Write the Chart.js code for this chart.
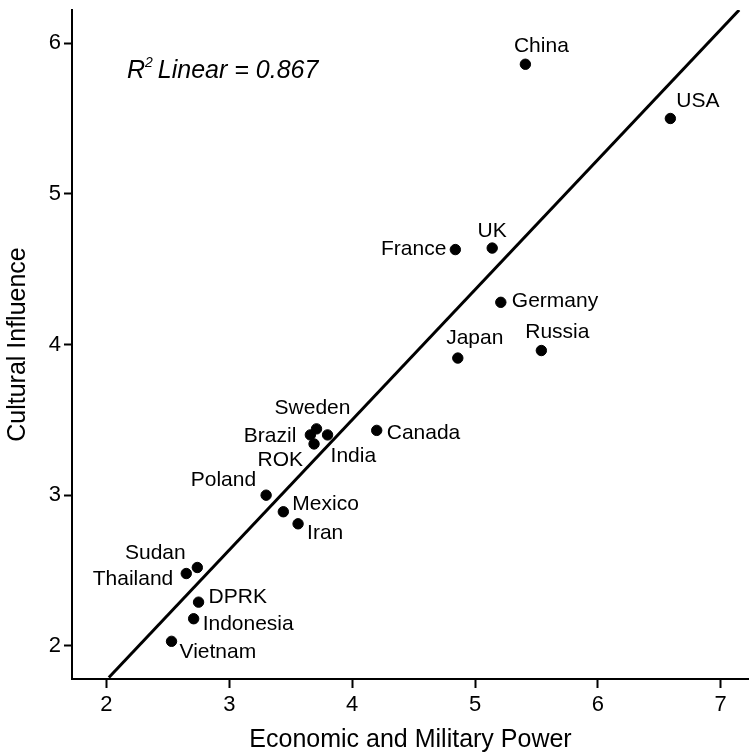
<!DOCTYPE html>
<html lang="en">
<head>
    <meta charset="UTF-8">
    <title>Cultural Influence vs Economic and Military Power</title>
    <script src="https://cdn.jsdelivr.net/npm/chart.js"></script>
    <style>
        html, body { margin: 0; padding: 0; background: #fff; overflow: hidden; }
        #wrap { width: 749px; height: 756px; position: relative; }
    </style>
</head>
<body>
    <div id="wrap"><canvas id="scatterChart"></canvas></div>

    <script>
        // Values
        const countries = ['China', 'USA', 'UK', 'France', 'Germany', 'Russia', 'Japan', 'Canada',
            'Sweden', 'Brazil', 'ROK', 'India', 'Poland', 'Mexico', 'Iran', 'Sudan', 'Thailand',
            'DPRK', 'Indonesia', 'Vietnam'];
        const economicMilitaryPower = [5.41, 6.59, 5.14, 4.84, 5.21, 5.54, 4.86, 4.20,
            3.71, 3.66, 3.69, 3.80, 3.30, 3.44, 3.56, 2.74, 2.65,
            2.75, 2.71, 2.53];
        const culturalInfluence = [5.86, 5.50, 4.64, 4.63, 4.28, 3.96, 3.91, 3.43,
            3.44, 3.40, 3.34, 3.40, 3.00, 2.89, 2.81, 2.52, 2.48,
            2.29, 2.18, 2.03];

        // fitted line end points
        const fitX = [2.02, 7.15];
        const fitY = [1.79, 6.22];

        const xTicks = [2, 3, 4, 5, 6, 7];
        const yTicks = [2, 3, 4, 5, 6];
        const rSquared = '0.867';

        // label placement next to each dot: [dx, dy, align]
        const labelPlacement = {
            China: [16, -18, 'center'], USA: [6, -17, 'left'], UK: [0, -17, 'center'],
            France: [-9, 0, 'right'], Germany: [11, -1, 'left'], Russia: [16, -18, 'center'],
            Japan: [17, -20, 'center'], Canada: [10, 3, 'left'], Sweden: [-4, -21, 'center'],
            Brazil: [-14, 1, 'right'], ROK: [-11, 16, 'right'], India: [3, 21, 'left'],
            Poland: [-10, -15, 'right'], Mexico: [9, -8, 'left'], Iran: [9, 9, 'left'],
            Sudan: [-42, -14, 'center'], Thailand: [-13, 6, 'right'], DPRK: [10, -5, 'left'],
            Indonesia: [9, 5, 'left'], Vietnam: [8, 11, 'left']
        };

        const FONT = "'Liberation Sans', Arial, sans-serif";

        const pointLabels = {
            id: 'pointLabels',
            afterDatasetsDraw(chart) {
                const ctx = chart.ctx;
                const meta = chart.getDatasetMeta(0);
                ctx.save();
                ctx.fillStyle = '#000';
                ctx.font = '21px ' + FONT;
                ctx.textBaseline = 'middle';
                meta.data.forEach((pt, i) => {
                    const p = labelPlacement[countries[i]];
                    ctx.textAlign = p[2];
                    ctx.fillText(countries[i], pt.x + p[0], pt.y + p[1]);
                });

                // R squared note
                const a = chart.chartArea;
                let x = a.left + 55, y = a.top + 68;
                ctx.textAlign = 'left';
                ctx.textBaseline = 'alphabetic';
                ctx.font = 'italic 25px ' + FONT;
                ctx.fillText('R', x, y);
                x += ctx.measureText('R').width;
                ctx.font = 'italic 14px ' + FONT;
                ctx.fillText('2', x, y - 11);
                x += ctx.measureText('2').width + 5;
                ctx.font = 'italic 25px ' + FONT;
                ctx.fillText('Linear = ' + rSquared, x, y);
                ctx.restore();
            }
        };

        const ctx = document.getElementById('scatterChart').getContext('2d');
        const chart = new Chart(ctx, {
            type: 'scatter',
            data: {
                datasets: [{
                    label: 'Countries',
                    data: countries.map((c, i) => ({ x: economicMilitaryPower[i], y: culturalInfluence[i] })),
                    backgroundColor: '#000',
                    borderColor: '#000',
                    pointRadius: 5.2,
                    pointHoverRadius: 5.2
                }, {
                    label: 'Linear fit',
                    type: 'line',
                    data: fitX.map((x, i) => ({ x: x, y: fitY[i] })),
                    borderColor: '#000',
                    borderWidth: 3,
                    pointRadius: 0,
                    fill: false
                }]
            },
            options: {
                responsive: true,
                maintainAspectRatio: false,
                animation: false,
                layout: { autoPadding: false, padding: { top: 10, right: 0, left: 0, bottom: 0 } },
                plugins: {
                    legend: { display: false },
                    tooltip: { enabled: false }
                },
                scales: {
                    x: {
                        type: 'linear',
                        min: 1.72,
                        max: 7.23,
                        afterBuildTicks: (scale) => { scale.ticks = xTicks.map(v => ({ value: v })); },
                        afterFit: (scale) => {
                            scale.height = 77;
                            scale.paddingLeft = 0;
                            scale.paddingRight = 0;
                        },
                        border: { display: true, color: '#000', width: 2 },
                        grid: { drawOnChartArea: false, drawTicks: true, tickLength: 9, tickColor: '#000', tickWidth: 2 },
                        ticks: { color: '#000', padding: 4, font: { family: FONT, size: 22 }, maxRotation: 0 },
                        title: {
                            display: true,
                            text: 'Economic and Military Power',
                            color: '#000',
                            font: { family: FONT, size: 25 },
                            padding: { top: 0, bottom: 1 }
                        }
                    },
                    y: {
                        type: 'linear',
                        min: 1.78,
                        max: 6.22,
                        afterBuildTicks: (scale) => { scale.ticks = yTicks.map(v => ({ value: v })); },
                        afterFit: (scale) => {
                            scale.width = 72;
                            scale.paddingTop = 0;
                            scale.paddingBottom = 0;
                        },
                        border: { display: true, color: '#000', width: 2 },
                        grid: { drawOnChartArea: false, drawTicks: true, tickLength: 8, tickColor: '#000', tickWidth: 2 },
                        ticks: { color: '#000', padding: 3, font: { family: FONT, size: 22 } },
                        title: {
                            display: true,
                            text: 'Cultural Influence',
                            color: '#000',
                            font: { family: FONT, size: 25 },
                            padding: { top: 3, bottom: 0 }
                        }
                    }
                }
            },
            plugins: [pointLabels]
        });
    </script>
</body>
</html>
